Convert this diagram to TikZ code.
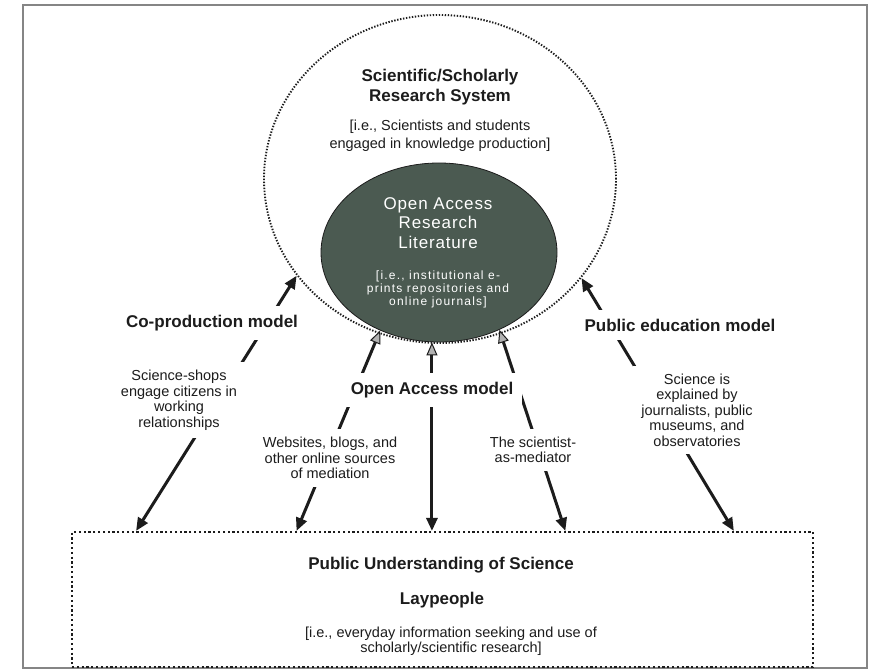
\documentclass[tikz,border=0pt]{standalone}
\usepackage{fontspec}
\setmainfont{Liberation Sans}
\newfontfamily\oafont[LetterSpace=5]{Liberation Sans}
\newfontfamily\oasmall[LetterSpace=10]{Liberation Sans}
\usetikzlibrary{arrows.meta,shapes.geometric,calc}
\definecolor{ink}{HTML}{1C1C1C}
\definecolor{oagreen}{HTML}{4B5A51}
\definecolor{framegray}{HTML}{858585}
\begin{document}
\begin{tikzpicture}[x=1pt,y=-1pt,
  title/.style={font=\fontsize{17}{20}\selectfont\bfseries, align=center, text=ink, inner sep=0pt},
  note/.style={font=\fontsize{14.5}{15.5}\selectfont, align=center, text=ink},
  model/.style={font=\fontsize{17}{20}\selectfont\bfseries, text=ink, fill=white, inner sep=9pt},
  lbl/.style={note, fill=white, inner sep=8pt},
  link/.style={draw=ink, line width=3pt, {Triangle[length=13pt,width=11pt]}-{Triangle[length=13pt,width=11pt]}},
  midlink/.style={draw=ink, line width=3pt, {Triangle[length=13pt,width=11pt,fill=gray!60,line width=1pt]}-{Triangle[length=13pt,width=11pt]}},
]
\useasboundingbox (0,0) rectangle (870,671);
\fill[white] (0,0) rectangle (870,671);
\draw[framegray, line width=1.2pt] (23,5) rectangle (867,668);

% research system
\node[ellipse, draw=ink, line width=1.9pt, dash pattern=on 1.4pt off 1.6pt,
      minimum width=352pt, minimum height=328pt, inner sep=0pt] (outer) at (440,179) {};
\node[title] (rstitle) at (440,87) {Scientific/Scholarly\\Research System};
\node[note, font=\fontsize{14.5}{18}\selectfont] (rsnote) at (440,136) {[i.e., Scientists and students\\engaged in knowledge production]};

% open access literature
\node[ellipse, fill=oagreen, draw=ink, line width=0.8pt,
      minimum width=236pt, minimum height=179pt, inner sep=0pt] (inner) at (439,252.5) {};
\node[text=white, font=\oafont\fontsize{17}{19.5}\selectfont, align=center] (oatitle) at (438,223) {Open Access\\Research\\Literature};
\node[text=white, font=\oasmall\fontsize{12}{13}\selectfont, align=center] (oanote) at (438,289.5) {[i.e., institutional e-\\prints repositories and\\online journals]};

% public understanding box
\node[draw=ink, line width=2.2pt, dash pattern=on 2.2pt off 2.6pt,
      minimum width=741pt, minimum height=135pt, inner sep=0pt] (box) at (442.5,599.5) {};
\node[title] (pus) at (441,565) {Public Understanding of Science};
\node[title] (lay) at (442,600) {Laypeople};
\node[note, font=\fontsize{14.5}{13.5}\selectfont] (everyday) at (451,641.5) {[i.e., everyday information seeking and use of\\scholarly/scientific research]};

% arrow ends on the box
\coordinate (b1) at ($(box.north west)!0.0877!(box.north east)$);
\coordinate (b2) at ($(box.north west)!0.3036!(box.north east)$);
\coordinate (b3) at ($(box.north west)!0.4858!(box.north east)$);
\coordinate (b4) at ($(box.north west)!0.6653!(box.north east)$);
\coordinate (b5) at ($(box.north west)!0.8920!(box.north east)$);

\draw[link] (outer.214) -- (b1);
\draw[midlink] (inner.233) -- (b2);
\draw[midlink] (inner.south -| b3) -- (b3);
\draw[midlink] (inner.308) -- (b4);
\draw[link] (outer.325) -- (b5);

% labels on the connectors
\node[model] (coprod) at (212,323) {Co-production model};
\node[lbl] (shops) at (179,400) {Science-shops\\engage citizens in\\working\\relationships};
\node[model] (oamodel) at (432,390) {Open Access model};
\node[lbl] (web) at (330,458) {Websites, blogs, and\\other online sources\\of mediation};
\node[lbl] (sci) at (533,450) {The scientist-\\as-mediator};
\node[model] (pubed) at (680,325) {Public education model};
\node[lbl] (expl) at (697,410) {Science is\\explained by\\journalists, public\\museums, and\\observatories};
\end{tikzpicture}
\end{document}
